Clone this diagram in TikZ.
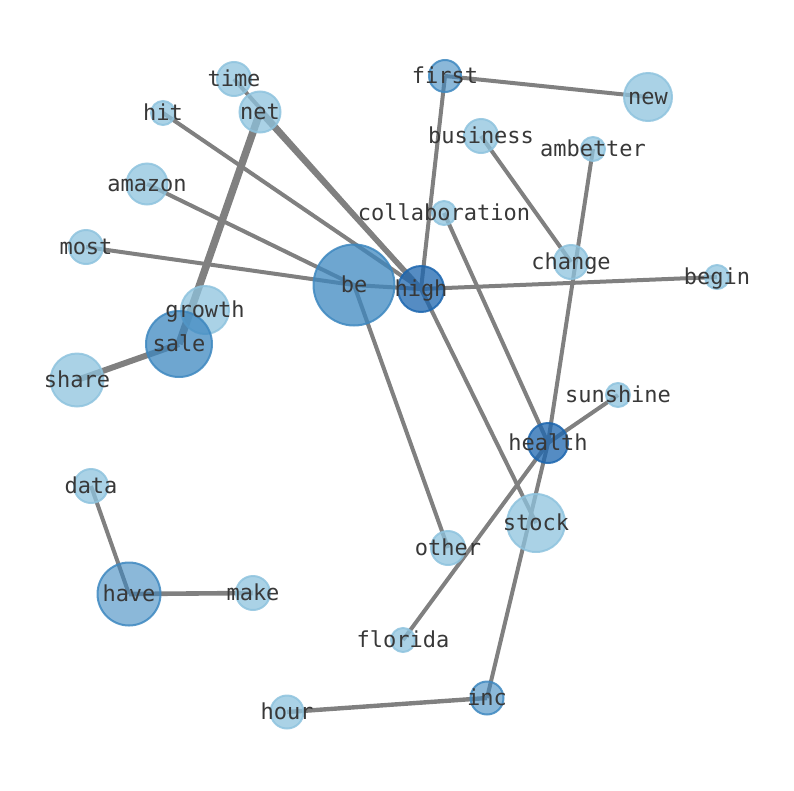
\documentclass[tikz,border=0pt]{standalone}
\usepackage{fontspec}
\setmonofont{DejaVu Sans Mono}
\begin{document}
\begin{tikzpicture}[x=1pt,y=-1pt,
  lbl/.style={font=\ttfamily\fontsize{22}{26}\selectfont, text=black!78, inner sep=0pt},
  lt/.style={circle, fill=lightc, draw=lightc, fill opacity=0.75, draw opacity=0.85, line width=2pt, inner sep=0pt},
  md/.style={circle, fill=midc, draw=midc, fill opacity=0.75, draw opacity=0.85, line width=2pt, inner sep=0pt},
  dk/.style={circle, fill=darkc, draw=darkc, fill opacity=0.75, draw opacity=0.85, line width=2pt, inner sep=0pt},
  edge/.style={draw=edgec, line width=4pt},
]
\definecolor{lightc}{RGB}{142,195,222}
\definecolor{midc}{RGB}{62,136,192}
\definecolor{darkc}{RGB}{28,102,175}
\definecolor{edgec}{RGB}{128,128,128}
\useasboundingbox (0,0) rectangle (794,790);
% node positions
\coordinate (time) at (234,79);
\coordinate (first) at (445,76);
\coordinate (new) at (648,97);
\coordinate (hit) at (163,113);
\coordinate (net) at (260,112);
\coordinate (business) at (481,136);
\coordinate (ambetter) at (593,149);
\coordinate (amazon) at (147,184);
\coordinate (collaboration) at (444,213);
\coordinate (most) at (86,247);
\coordinate (change) at (571,262);
\coordinate (be) at (354,285);
\coordinate (high) at (421,289);
\coordinate (begin) at (717,277);
\coordinate (growth) at (205,310);
\coordinate (sale) at (179,344);
\coordinate (share) at (77,380);
\coordinate (sunshine) at (618,395);
\coordinate (health) at (548,443);
\coordinate (data) at (91,486);
\coordinate (stock) at (536,523);
\coordinate (other) at (448,548);
\coordinate (have) at (129,594);
\coordinate (make) at (253,593);
\coordinate (florida) at (403,640);
\coordinate (inc) at (487,698);
\coordinate (hour) at (287,712);
% edges
\draw[edge] (time) -- (high);
\draw[edge, line width=5.5pt] (net) -- (high);
\draw[edge] (hit) -- (high);
\draw[edge, line width=7.5pt] (net) -- (sale);
\draw[edge] (amazon) -- (be);
\draw[edge] (most) -- (be);
\draw[edge, line width=6pt] (share) -- (sale);
\draw[edge] (be) -- (other);
\draw[edge] (be) -- (high);
\draw[edge] (first) -- (high);
\draw[edge] (first) -- (new);
\draw[edge] (business) -- (change);
\draw[edge] (collaboration) -- (health);
\draw[edge] (high) -- (stock);
\draw[edge] (high) -- (begin);
\draw[edge] (ambetter) -- (health);
\draw[edge] (health) -- (inc);
\draw[edge] (health) -- (sunshine);
\draw[edge] (health) -- (florida);
\draw[edge] (data) -- (have);
\draw[edge, line width=4.6pt] (have) -- (make);
\draw[edge, line width=4.4pt] (hour) -- (inc);
% nodes
\node[lt, minimum size=34pt] (ntime) at (time) {};
\node[md, minimum size=32pt, fill opacity=0.6] (nfirst) at (first) {};
\node[lt, minimum size=48pt] (nnew) at (new) {};
\node[lt, minimum size=24pt] (nhit) at (hit) {};
\node[lt, minimum size=41pt] (nnet) at (net) {};
\node[lt, minimum size=34pt] (nbusiness) at (business) {};
\node[lt, minimum size=24pt] (nambetter) at (ambetter) {};
\node[lt, minimum size=41pt] (namazon) at (amazon) {};
\node[lt, minimum size=24pt] (ncollaboration) at (collaboration) {};
\node[lt, minimum size=34pt] (nmost) at (most) {};
\node[lt, minimum size=34pt] (nchange) at (change) {};
\node[md, minimum size=81pt] (nbe) at (be) {};
\node[dk, minimum size=46pt] (nhigh) at (high) {};
\node[lt, minimum size=24pt] (nbegin) at (begin) {};
\node[lt, minimum size=48pt] (ngrowth) at (growth) {};
\node[md, minimum size=66pt] (nsale) at (sale) {};
\node[lt, minimum size=53pt] (nshare) at (share) {};
\node[lt, minimum size=24pt] (nsunshine) at (sunshine) {};
\node[dk, minimum size=40pt] (nhealth) at (health) {};
\node[lt, minimum size=34pt] (ndata) at (data) {};
\node[lt, minimum size=58pt] (nstock) at (stock) {};
\node[lt, minimum size=34pt] (nother) at (other) {};
\node[md, minimum size=63pt, fill opacity=0.6] (nhave) at (have) {};
\node[lt, minimum size=34pt] (nmake) at (make) {};
\node[lt, minimum size=24pt] (nflorida) at (florida) {};
\node[md, minimum size=33pt, fill opacity=0.6] (ninc) at (inc) {};
\node[lt, minimum size=33pt] (nhour) at (hour) {};
% labels
\foreach \n in {time,first,new,hit,net,business,ambetter,amazon,collaboration,most,change,be,high,begin,growth,sale,share,sunshine,health,data,stock,other,have,make,florida,inc,hour}
  \node[lbl, yshift=-5pt, text height=0.75em, text depth=0.2em] (l\n) at (\n) {\n};
\end{tikzpicture}
\end{document}
